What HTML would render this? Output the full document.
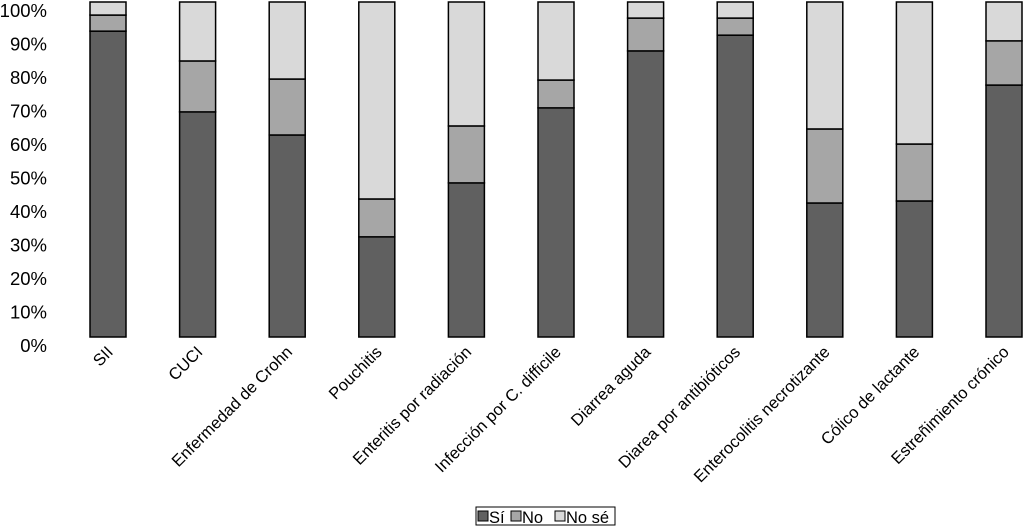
<!DOCTYPE html>
<html><head><meta charset="utf-8"><style>
body{margin:0;background:#fff;width:1024px;height:526px;overflow:hidden}
text{font-family:"Liberation Sans",sans-serif;fill:#000}
</style></head><body>
<svg id="chart" width="1024" height="526" viewBox="0 0 1024 526"></svg>
<script>
const categories=["SII","CUCI","Enfermedad de Crohn","Pouchitis","Enteritis por radiación","Infección por C. difficile","Diarrea aguda","Diarea por antibióticos","Enterocolitis necrotizante","Cólico de lactante","Estreñimiento crónico"];
const si=[91.3,67.2,60.3,29.9,46.0,68.4,85.4,90.1,40.0,40.6,75.2];
const no=[4.8,15.2,16.7,11.3,17.0,8.3,9.8,5.1,22.1,17.0,13.2];
const nose=[3.9,17.6,23.0,58.8,37.0,23.3,4.8,4.8,37.9,42.4,11.6];
const ticks=[0,10,20,30,40,50,60,70,80,90,100];
const seriesNames=["Sí","No","No sé"];
const colors=["#606060","#a6a6a6","#d9d9d9"];
const NS="http://www.w3.org/2000/svg";
const svg=document.getElementById("chart");
const y0=337,y1=2;
function y(v){return y0-(y0-y1)*v/100;}
function x(i){return 108+i*89.6;}
const bw=36;
function mk(t,a){const e=document.createElementNS(NS,t);for(const k in a)e.setAttribute(k,a[k]);svg.appendChild(e);return e;}
ticks.forEach(t=>{
  const e=mk("text",{x:47,y:y(t)+15,"text-anchor":"end","font-size":"18.5"});
  e.textContent=t+"%";
  
  
});
const series=[si,no,nose];
categories.forEach((c,i)=>{
  let acc=0;
  series.forEach((s,k)=>{
    const r=mk("rect",{x:x(i)-bw/2,y:y(acc+s[i]),width:bw,height:y(acc)-y(acc+s[i]),fill:colors[k],stroke:"#000","stroke-width":"1.5"});
    
    
    acc+=s[i];
  });
  const t=mk("text",{transform:`translate(${x(i)+6},${353}) rotate(-45)`,"text-anchor":"end","font-size":"16.5"});
  t.textContent=c;
  
  
});
const lg=mk("g",{});


mk("rect",{x:476,y:507,width:139,height:18,fill:"#fff",stroke:"#000","stroke-width":"1"});
const lx=[478,511,555];
seriesNames.forEach((n,k)=>{
  const r=mk("rect",{x:lx[k],y:511,width:10,height:10,fill:colors[k],stroke:"#000","stroke-width":"1"});
  
  
  const t=mk("text",{x:lx[k]+11,y:523,"font-size":"16.5"});
  t.textContent=n;
  
  
});
</script>
</body></html>
